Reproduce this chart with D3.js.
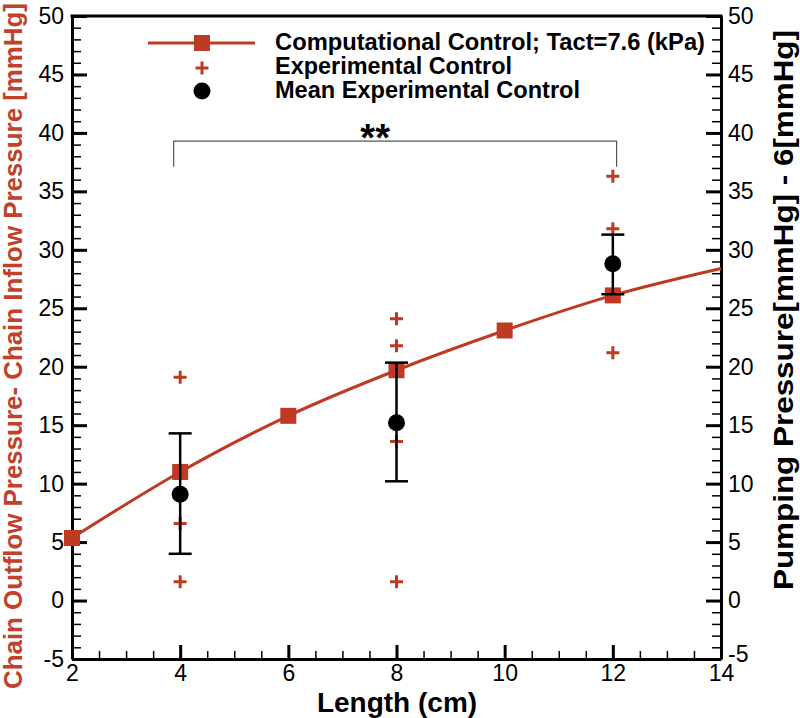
<!DOCTYPE html>
<html>
<head>
<meta charset="utf-8">
<script src="https://cdn.jsdelivr.net/npm/d3@7"></script>
<style>
  body { margin: 0; background: #fff; }
  text { font-family: "Liberation Sans", Arial, sans-serif; }
</style>
</head>
<body>
<div id="chart_container"></div>
<script>
// computational control curve (squares everywhere but the last point)
var compX = [2, 4, 6, 8, 10, 12, 14];
var compY = [5.35, 11.0, 15.8, 19.7, 23.1, 26.1, 28.4];
var compMarked = [true, true, true, true, true, true, false];

// individual experimental points
var expX = [4, 4, 4, 8, 8, 8, 8, 12, 12, 12, 12];
var expY = [19.1, 6.6, 1.6, 24.1, 21.8, 13.6, 1.6, 36.3, 31.8, 26.0, 21.2];

// experimental means with error bars
var meanX = [4, 8, 12];
var meanY = [9.1, 15.2, 28.8];
var errLo = [4.0, 10.2, 26.2];
var errHi = [14.3, 20.35, 31.3];

// significance bracket
var bracketX = [3.88, 12.07];
var bracketY = [39.3, 37.1];

var xTicks = [2, 4, 6, 8, 10, 12, 14];
var yTicks = [-5, 0, 5, 10, 15, 20, 25, 30, 35, 40, 45, 50];

var legendLabels = ["Computational Control; Tact=7.6 (kPa)", "Experimental Control", "Mean Experimental Control"];

var red = "#bf3a22";

var svg = d3.select("#chart_container").append("svg")
    .attr("width", 800)
    .attr("height", 718);

var x = d3.scaleLinear().domain([2, 14]).range([72, 721]);
var y = d3.scaleLinear().domain([-5, 50]).range([659, 16]);

var plainNum = function(d) { return String(d); };

// minor ticks first
svg.append("g")
    .attr("transform", "translate(72,0)")
    .call(d3.axisLeft(y).tickValues(d3.range(-5, 51, 1)).tickSize(-9).tickFormat(""))
    .call(function(g) { g.select(".domain").remove(); g.selectAll("line").attr("stroke-width", 1.5); });
svg.append("g")
    .attr("transform", "translate(721,0)")
    .call(d3.axisRight(y).tickValues(d3.range(-5, 51, 1)).tickSize(-9).tickFormat(""))
    .call(function(g) { g.select(".domain").remove(); g.selectAll("line").attr("stroke-width", 1.5); });
svg.append("g")
    .attr("transform", "translate(0,659)")
    .call(d3.axisBottom(x).tickValues(d3.range(2, 14.01, 0.5)).tickSize(-8).tickFormat(""))
    .call(function(g) { g.select(".domain").remove(); g.selectAll("line").attr("stroke-width", 1.5); });

// major axes
var leftAxis = svg.append("g")
    .attr("transform", "translate(72,0)")
    .call(d3.axisLeft(y).tickValues(yTicks).tickFormat(plainNum).tickSize(-15).tickSizeOuter(0).tickPadding(8));
var rightAxis = svg.append("g")
    .attr("transform", "translate(721,0)")
    .call(d3.axisRight(y).tickValues(yTicks).tickFormat(plainNum).tickSize(-15).tickSizeOuter(0).tickPadding(7));
var bottomAxis = svg.append("g")
    .attr("transform", "translate(0,659)")
    .call(d3.axisBottom(x).tickValues(xTicks).tickFormat(plainNum).tickSize(-14).tickSizeOuter(0).tickPadding(6));

[leftAxis, rightAxis, bottomAxis].forEach(function(g) {
    g.selectAll("line").attr("stroke-width", 3);
    g.select(".domain").attr("stroke-width", 3);
    g.selectAll("text").attr("font-size", 23).attr("fill", "#000")
        .style("font-family", "'Liberation Sans', Arial, sans-serif");
});

// the lowest right label sits a little high, clear of the "14"
rightAxis.selectAll(".tick text")
    .filter(function(d) { return d === -5; })
    .attr("dy", "0.1em");

// top frame line
svg.append("line")
    .attr("x1", x(2) - 1.5).attr("x2", x(14) + 1.5)
    .attr("y1", y(50)).attr("y2", y(50))
    .attr("stroke", "#000").attr("stroke-width", 3);

// significance bracket
svg.append("path")
    .attr("d", "M" + x(bracketX[0]) + "," + y(bracketY[1]) +
        "V" + y(bracketY[0]) + "H" + x(bracketX[1]) + "V" + y(bracketY[1]))
    .attr("fill", "none").attr("stroke", "#555").attr("stroke-width", 1.2);
svg.append("text")
    .attr("x", x(d3.mean(bracketX)) - 20).attr("y", y(bracketY[0]) + 10)
    .attr("text-anchor", "middle")
    .attr("font-size", 38).attr("font-weight", "bold")
    .text("**");

// computational curve
var line = d3.line()
    .x(function(d, i) { return x(compX[i]); })
    .y(function(d, i) { return y(compY[i]); })
    .curve(d3.curveMonotoneX);
svg.append("path")
    .datum(compY)
    .attr("d", line)
    .attr("fill", "none").attr("stroke", red).attr("stroke-width", 3);

svg.append("g").selectAll("rect")
    .data(compY.filter(function(d, i) { return compMarked[i]; }))
    .enter().append("rect")
    .attr("x", function(d, i) { return x(compX[i]) - 8; })
    .attr("y", function(d) { return y(d) - 8; })
    .attr("width", 16).attr("height", 16)
    .attr("fill", red);

// experimental crosses
function cross(cx, cy) {
    return "M" + (cx - 6.5) + "," + cy + "H" + (cx + 6.5) + "M" + cx + "," + (cy - 6.5) + "V" + (cy + 6.5);
}
svg.append("g").selectAll("path")
    .data(expY)
    .enter().append("path")
    .attr("d", function(d, i) { return cross(x(expX[i]), y(d)); })
    .attr("stroke", red).attr("stroke-width", 3).attr("fill", "none");

// error bars and means
var eb = svg.append("g").attr("stroke", "#000").attr("stroke-width", 2.5);
meanX.forEach(function(mx, i) {
    eb.append("line").attr("x1", x(mx)).attr("x2", x(mx)).attr("y1", y(errLo[i])).attr("y2", y(errHi[i]));
    eb.append("line").attr("x1", x(mx) - 11.5).attr("x2", x(mx) + 11.5).attr("y1", y(errLo[i])).attr("y2", y(errLo[i]));
    eb.append("line").attr("x1", x(mx) - 11.5).attr("x2", x(mx) + 11.5).attr("y1", y(errHi[i])).attr("y2", y(errHi[i]));
});
svg.append("g").selectAll("circle")
    .data(meanY)
    .enter().append("circle")
    .attr("cx", function(d, i) { return x(meanX[i]); })
    .attr("cy", function(d) { return y(d); })
    .attr("r", 8.5)
    .attr("fill", "#000");

// legend
var legend = svg.append("g");
legend.append("line").attr("x1", 148).attr("x2", 255).attr("y1", 43).attr("y2", 43)
    .attr("stroke", red).attr("stroke-width", 3);
legend.append("rect").attr("x", 194).attr("y", 35).attr("width", 16).attr("height", 16).attr("fill", red);
legend.append("path").attr("d", cross(202, 68)).attr("stroke", red).attr("stroke-width", 3);
legend.append("circle").attr("cx", 202).attr("cy", 91).attr("r", 8.5).attr("fill", "#000");
var legendW = [430, 237, 305];
legend.selectAll("text")
    .data(legendLabels)
    .enter().append("text")
    .attr("x", 275)
    .attr("y", function(d, i) { return 50 + i * 23.8; })
    .attr("font-size", 23).attr("font-weight", "bold")
    .attr("textLength", function(d, i) { return legendW[i]; })
    .attr("lengthAdjust", "spacingAndGlyphs")
    .text(function(d) { return d; });

// axis titles
svg.append("text")
    .attr("transform", "translate(397,712)")
    .attr("text-anchor", "middle")
    .attr("font-size", 28).attr("font-weight", "bold")
    .text("Length (cm)");

svg.append("text")
    .attr("transform", "translate(22,346) rotate(-90)")
    .attr("text-anchor", "middle")
    .attr("font-size", 25).attr("font-weight", "bold")
    .attr("fill", "#c1412a")
    .style("font-family", "'Liberation Sans Narrow', 'Liberation Sans', Arial, sans-serif")
    .attr("textLength", 686).attr("lengthAdjust", "spacingAndGlyphs")
    .text("Chain Outflow Pressure- Chain Inflow Pressure [mmHg]");

svg.append("text")
    .attr("transform", "translate(793,310) rotate(-90)")
    .attr("text-anchor", "middle")
    .attr("font-size", 27).attr("font-weight", "bold")
    .attr("textLength", 560).attr("lengthAdjust", "spacingAndGlyphs")
    .text("Pumping Pressure[mmHg] - 6[mmHg]");
</script>
</body>
</html>
